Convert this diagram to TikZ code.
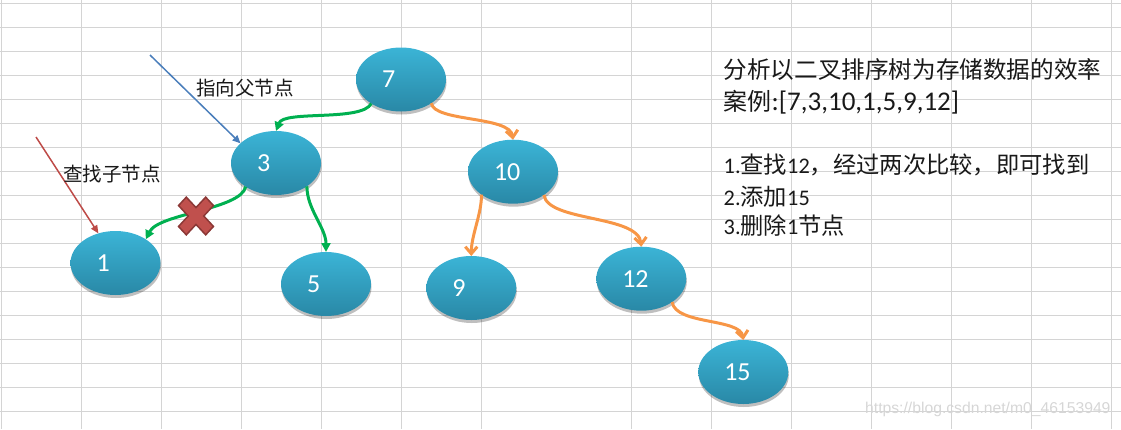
\documentclass[tikz,border=0pt]{standalone}
\usepackage{fontspec}
\setmainfont{Carlito}[Numbers=Lining]
\newfontfamily\cjk{Noto Sans CJK SC}
\newfontfamily\wmfont{Liberation Sans}
\usetikzlibrary{arrows.meta,shapes.geometric,shadows}
\definecolor{gridc}{HTML}{D4D4D4}
\definecolor{ntop}{HTML}{3BB4D6}
\definecolor{nbot}{HTML}{2988A6}
\definecolor{cgreen}{HTML}{00B050}
\definecolor{corange}{HTML}{F79646}
\definecolor{cblue}{HTML}{4A7EBB}
\definecolor{cred}{HTML}{BE4B48}
\definecolor{xfill}{HTML}{C0504D}
\definecolor{xline}{HTML}{8C3836}
\definecolor{wmc}{HTML}{D6D6D6}
\newcommand\zhA[1]{{\cjk\fontsize{23.6bp}{28bp}\selectfont #1}}
\newcommand\zhB[1]{{\cjk\fontsize{24bp}{30bp}\selectfont #1}}
\newcommand\zhC[1]{{\cjk\fontsize{23.3bp}{26bp}\selectfont #1}}
\begin{document}
\begin{tikzpicture}[x=1bp,y=-1bp,
  gridline/.style={gridc,line width=0.9bp},
  treenode/.style={ellipse, minimum width=90bp, minimum height=64bp,
    inner sep=0pt, outer sep=0pt, top color=ntop, bottom color=nbot,
    draw=none, text=white, align=left, text width=38bp,
    font=\fontsize{26bp}{30bp}\selectfont,
    drop shadow={shadow xshift=0.5bp, shadow yshift=-3bp, opacity=0.25, fill=black}},
  garrow/.style={cgreen, line width=3bp, -{Triangle[length=9bp,width=9bp]}},
  oarrow/.style={corange, line width=3bp, -{Straight Barb[length=7bp,width=12bp]}},
  barrow/.style={cblue, line width=1.5bp, -{Triangle[length=8bp,width=7bp]}},
  rarrow/.style={cred, line width=1.5bp, -{Triangle[length=8bp,width=7bp]}},
  notetext/.style={anchor=base west, text=black!90, inner sep=0pt},
  xmark/.style={fill=xfill, draw=xline, line width=1.5bp, line join=miter}
]
\useasboundingbox (0,0) rectangle (1121,429);
% grid
\foreach \gx in {1.4,81.4,161.4,241.4,321.4,401.4,481.4,631.5,711.4,791.4,871.4,951.4,1031.3,1111.3}
  \draw[gridline] (\gx,0) -- (\gx,429);
\foreach \k in {0,...,17}
  \draw[gridline] (0,{3.3+24*\k}) -- (1121,{3.3+24*\k});
% nodes
\node[treenode] (n7) at (401,79.5) {7};
\node[treenode] (n3) at (276,163) {3};
\node[treenode] (n1) at (115.5,263) {1};
\node[treenode] (n5) at (326,284) {5};
\node[treenode] (n10) at (513,171.7) {10};
\node[treenode] (n9) at (471.3,288) {9};
\node[treenode] (n12) at (641.3,278.7) {12};
\node[treenode] (n15) at (743.3,372) {15};
% connectors
\draw[garrow] (n7.219) .. controls +(-9.6,18.3) and +(8,-21) .. (n3.north);
\draw[garrow] (n3.218) .. controls +(-5,23) and +(13,-26) .. (n1.38);
\draw[garrow] (n3.323) .. controls +(0,23) and +(0,-24) .. (n5.north);
\draw[oarrow] (n7.322) .. controls +(3,19) and +(-3,-24) .. (n10.north);
\draw[oarrow] (n10.216) .. controls +(0,20) and +(0,-21) .. (n9.north);
\draw[oarrow] (n10.323) .. controls +(4,27) and +(-3,-32) .. (n12.north);
\draw[oarrow] (n12.323) .. controls +(3,23) and +(-3,-22) .. (n15.north);
\coordinate (bstart) at (150,55);
\coordinate (rstart) at (36,137);
\draw[barrow] (bstart) -- (n3.151);
\draw[rarrow] (rstart) -- (n1.120);
% delete mark
\draw[xmark, shift={(196,216)}, yscale=1.08, rotate=45]
  (5.5,5.5) -- (19.2,5.5) -- (19.2,-5.5) -- (5.5,-5.5) -- (5.5,-19.2) -- (-5.5,-19.2)
  -- (-5.5,-5.5) -- (-19.2,-5.5) -- (-19.2,5.5) -- (-5.5,5.5) -- (-5.5,19.2) -- (5.5,19.2) -- cycle;
% annotations
\node[notetext, font=\cjk\fontsize{19.5bp}{22bp}\selectfont] (lp) at (196,95) {指向父节点};
\node[notetext, font=\cjk\fontsize{19.5bp}{22bp}\selectfont] (lc) at (63,181.5) {查找子节点};
% description
\node[notetext] (t1) at (723.5,78.5) {\zhA{分析以二叉排序树为存储数据的效率}};
\node[notetext, font=\fontsize{27bp}{30bp}\selectfont] (t2) at (723.5,110) {\zhB{案例}:[7,3,10,1,5,9,12]};
\node[notetext, font=\fontsize{22.3bp}{26bp}\selectfont] (t3) at (723.5,173.5) {1.\zhC{查找}12\zhC{，经过两次比较，即可找到}};
\node[notetext, font=\fontsize{22.3bp}{26bp}\selectfont] (t4) at (723.5,205) {2.\zhC{添加}15};
\node[notetext, font=\fontsize{22.3bp}{26bp}\selectfont] (t5) at (723.5,234.3) {3.\zhC{删除}1\zhC{节点}};
% watermark
\node[anchor=base west, inner sep=0pt, text=wmc, font=\wmfont\fontsize{15.7bp}{18bp}\selectfont] (wm) at (865,413) {https://blog.csdn.net/m0\_46153949};
\end{tikzpicture}
\end{document}
